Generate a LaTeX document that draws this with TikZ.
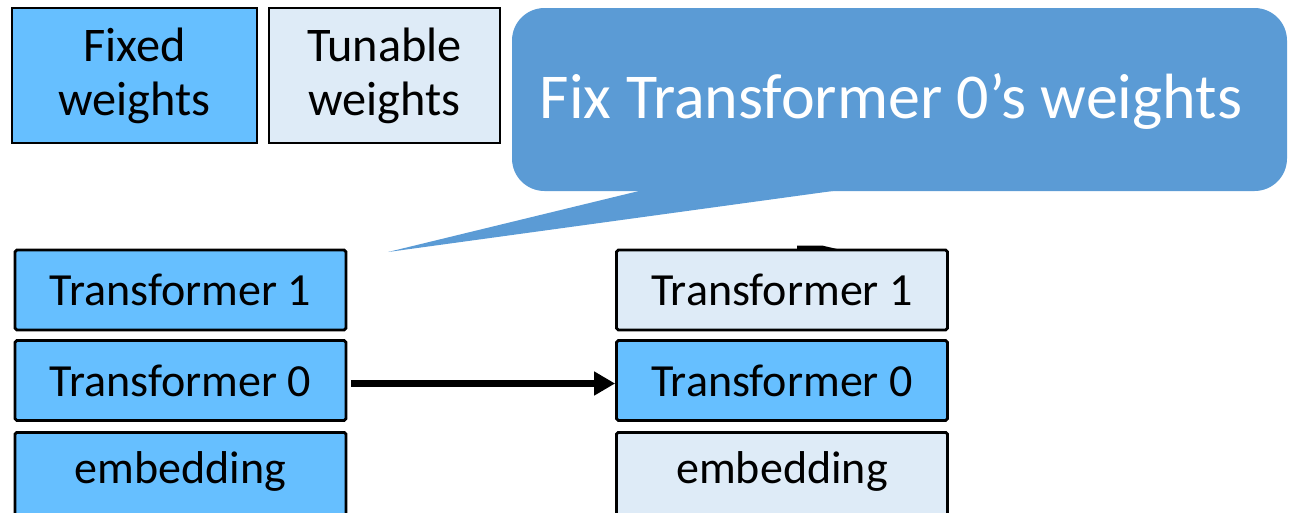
\documentclass[tikz,border=0pt]{standalone}
\usepackage{fontspec}
\setmainfont{Carlito}
\usetikzlibrary{arrows.meta}
\definecolor{fixedblue}{RGB}{102,191,255}
\definecolor{tunablefill}{RGB}{222,235,247}
\definecolor{calloutblue}{RGB}{91,155,213}
\tikzset{
  layer/.style={draw=black, line width=1.6pt, rounded corners=1pt,
    minimum width=6.62cm, minimum height=1.6cm, inner sep=0pt,
    font=\fontsize{26.2}{30}\selectfont},
  fixedlayer/.style={layer, fill=fixedblue},
  tunelayer/.style={layer, fill=tunablefill},
  legend/.style={draw=black, line width=1.4pt, minimum height=2.7cm, inner sep=0pt,
    align=center, font=\fontsize{27.5}{30.8}\selectfont},
  calloutfill/.style={fill=calloutblue},
  flow/.style={line width=4pt, -{Triangle[length=12pt,width=13pt]}}
}
\begin{document}
\begin{tikzpicture}[x=0.02cm, y=-0.02cm]
  \useasboundingbox (0,0) rectangle (1289,512);

  % legend
  \node[legend, fill=fixedblue, minimum width=4.9cm] (fixed) at (134.5,75.5) {Fixed\\weights};
  \node[legend, fill=tunablefill, minimum width=4.62cm] (tunable) at (384.5,75.5) {Tunable\\weights};

  % speech bubble
  \fill[calloutfill, rounded corners=0.65cm] (512,8) rectangle (1287,191);
  \fill[calloutfill] (643,190) -- (388,252) -- (840,190) -- cycle;
  \node[text=white, font=\fontsize{36.4}{44}\selectfont, inner sep=0pt] (note) at (891,101) {Fix Transformer 0’s weights};

  % left stack: all layers fixed
  \node[fixedlayer] (l1) at (180.5,290) {Transformer 1};
  \node[fixedlayer] (l0) at (180.5,380.5) {Transformer 0};
  \node[fixedlayer, minimum height=1.8cm, anchor=north] (le) at (180.5,431) {};
  \node[font=\fontsize{26.2}{30}\selectfont] (letext) at (180.5,471) {embedding};

  % right stack: only Transformer 0 fixed
  \node[tunelayer] (r1) at (782,290) {Transformer 1};
  \node[fixedlayer] (r0) at (782,380.5) {Transformer 0};
  \node[tunelayer, minimum height=1.8cm, anchor=north] (re) at (782,431) {};
  \node[font=\fontsize{26.2}{30}\selectfont] (retext) at (782,471) {embedding};

  % small mark on top of the right stack
  \fill[black] (797,249) -- (797,245.5) -- (822,245.5) -- (837,249) -- cycle;

  % transfer arrow
  \draw[flow] (l0.east) ++(4,3) coordinate (a0) -- (a0 -| r0.west);
\end{tikzpicture}
\end{document}
